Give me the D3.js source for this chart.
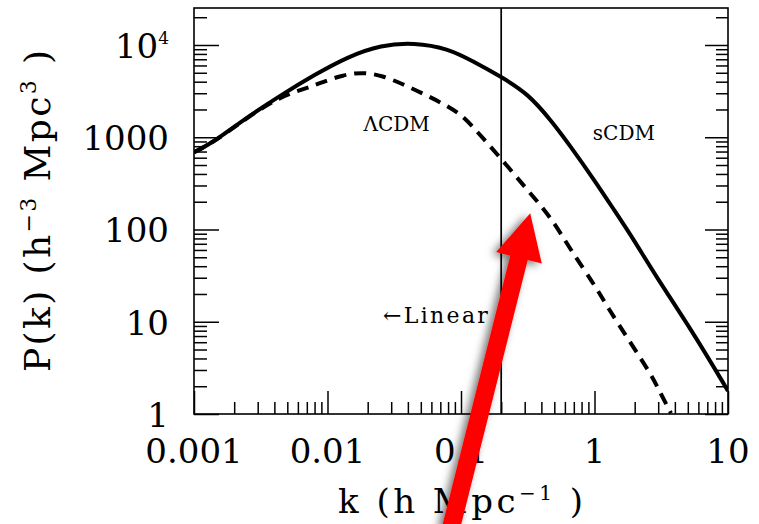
<!DOCTYPE html>
<html>
<head>
<meta charset="utf-8">
<script src="https://cdn.jsdelivr.net/npm/d3@7"></script>
<style>
  body { margin: 0; background: #fff; }
  text { font-family: "DejaVu Serif", serif; fill: #000; }
</style>
</head>
<body>
<div id="chart"></div>
<script>
// values
const kSCDM = [0.001, 0.00141, 0.00252, 0.00449, 0.00793, 0.01416, 0.0252, 0.0445, 0.0795, 0.125, 0.2, 0.316, 0.472, 0.667, 1.0, 1.41, 1.99, 2.81, 5.56, 10]
const pSCDM = [687, 889, 1663, 2863, 4720, 7460, 10000, 10600, 9200, 6580, 4520, 2985, 1530, 785, 341, 161, 75.9, 33, 7.4, 1.78]

const kLCDM = [0.001, 0.00141, 0.00252, 0.00449, 0.0069, 0.0093, 0.013, 0.01835, 0.0259, 0.0366, 0.0517, 0.073, 0.1, 0.126, 0.2, 0.316, 0.472, 0.667, 1.0, 1.256, 1.82, 2.65, 3.15, 3.74]
const pLCDM = [687, 885, 1650, 2780, 3383, 3990, 4720, 5090, 4640, 3767, 2985, 2323, 1778, 1244, 587, 265, 136, 59, 25.2, 14.3, 6.22, 2.70, 1.64, 1.02]

const kLinear = 0.2

const xMajor = [0.001, 0.01, 0.1, 1, 10]
const xLabels = ["0.001", "0.01", "0.1", "1", "10"]
const yMajor = [1, 10, 100, 1000, 10000]
const yLabels = ["1", "10", "100", "1000", "10^4"]

// 1. dimensions
let dimensions = {
  width: 759,
  height: 524,
  margin: { top: 8, right: 31, bottom: 110, left: 194 },
}
dimensions.boundedWidth = dimensions.width - dimensions.margin.left - dimensions.margin.right
dimensions.boundedHeight = dimensions.height - dimensions.margin.top - dimensions.margin.bottom

// 2. canvas
const svg = d3.select("#chart").append("svg")
  .attr("width", dimensions.width)
  .attr("height", dimensions.height)

const defs = svg.append("defs")
defs.append("clipPath").attr("id", "plot-clip")
  .append("rect")
  .attr("x", dimensions.margin.left)
  .attr("y", dimensions.margin.top)
  .attr("width", dimensions.boundedWidth)
  .attr("height", dimensions.boundedHeight)

defs.append("filter").attr("id", "shadow")
  .attr("x", "-50%").attr("y", "-50%").attr("width", "200%").attr("height", "200%")
  .append("feDropShadow")
  .attr("dx", -4).attr("dy", 2).attr("stdDeviation", 4)
  .attr("flood-color", "#000").attr("flood-opacity", 0.55)

// 3. scales
const x = d3.scaleLog()
  .domain([0.001, 10])
  .range([dimensions.margin.left, dimensions.margin.left + dimensions.boundedWidth])

const y = d3.scaleLog()
  .domain([1, Math.pow(10, 4.401)])
  .range([dimensions.margin.top + dimensions.boundedHeight, dimensions.margin.top])

const isPow10 = v => Math.abs(Math.log10(v) - Math.round(Math.log10(v))) < 1e-6
const xMinor = x.ticks().filter(v => !isPow10(v))
const yMinor = y.ticks().filter(v => !isPow10(v))

const yBottom = y.range()[0]
const xLeft = x.range()[0]
const xRight = x.range()[1]

// 4. ticks (all pointing inward, no top ticks)
function tickGroup(axis, tx, ty) {
  const g = svg.append("g")
    .attr("transform", `translate(${tx},${ty})`)
    .call(axis)
  g.select(".domain").remove()
  g.selectAll("line").attr("stroke", "#000").attr("stroke-width", 1.5)
  g.selectAll("text").remove()
  return g
}
tickGroup(d3.axisBottom(x).tickValues(xMinor).tickSize(-12).tickFormat(""), 0, yBottom)
tickGroup(d3.axisBottom(x).tickValues(xMajor).tickSize(-23).tickFormat(""), 0, yBottom)
tickGroup(d3.axisLeft(y).tickValues(yMinor).tickSize(-13).tickFormat(""), xLeft, 0)
tickGroup(d3.axisLeft(y).tickValues(yMajor).tickSize(-25).tickFormat(""), xLeft, 0)
tickGroup(d3.axisRight(y).tickValues(yMinor).tickSize(-12).tickFormat(""), xRight, 0)
tickGroup(d3.axisRight(y).tickValues(yMajor).tickSize(-23).tickFormat(""), xRight, 0)

// frame
svg.append("rect")
  .attr("x", xLeft)
  .attr("y", dimensions.margin.top)
  .attr("width", dimensions.boundedWidth)
  .attr("height", dimensions.boundedHeight)
  .attr("fill", "none")
  .attr("stroke", "#000")
  .attr("stroke-width", 1.6)

// linear cut-off line
svg.append("line")
  .attr("x1", x(kLinear)).attr("x2", x(kLinear))
  .attr("y1", y.range()[0]).attr("y2", y.range()[1])
  .attr("stroke", "#000")
  .attr("stroke-width", 1.7)

// 5. curves
const lineGenerator = d3.line()
  .x(d => x(d[0]))
  .y(d => y(d[1]))
  .curve(d3.curveBasis)

const plot = svg.append("g").attr("clip-path", "url(#plot-clip)")

plot.append("path")
  .attr("d", lineGenerator(d3.zip(kSCDM, pSCDM)))
  .attr("fill", "none")
  .attr("stroke", "#000")
  .attr("stroke-width", 4)

plot.append("path")
  .attr("d", lineGenerator(d3.zip(kLCDM, pLCDM)))
  .attr("fill", "none")
  .attr("stroke", "#000")
  .attr("stroke-width", 4)
  .attr("stroke-dasharray", "12,8")

// 6. tick labels
svg.append("g").selectAll("text")
  .data(yMajor)
  .join("text")
    .attr("x", 169)
    .attr("y", d => y(d) + 13)
    .attr("text-anchor", "end")
    .attr("font-size", 34)
    .each(function(d, i) {
      const t = d3.select(this)
      const lab = yLabels[i]
      if (lab.includes("^")) {
        const [base, exp] = lab.split("^")
        t.append("tspan").text(base)
        t.append("tspan").attr("dy", -14).attr("font-size", 17).text(exp)
      } else {
        t.text(lab)
      }
    })

svg.append("g").selectAll("text")
  .data(xMajor)
  .join("text")
    .attr("x", d => x(d))
    .attr("y", 463)
    .attr("text-anchor", "middle")
    .attr("font-size", 34)
    .text((d, i) => xLabels[i])

// axis titles
const xTitle = svg.append("text")
  .attr("x", 338)
  .attr("y", 513)
  .attr("font-size", 34)
  .attr("textLength", 245)
  .attr("lengthAdjust", "spacing")
xTitle.append("tspan").text("k (h Mpc")
xTitle.append("tspan").attr("dy", -13).attr("font-size", 20).text("\u22121")
xTitle.append("tspan").attr("dy", 13).text(" )")

const yTitle = svg.append("text")
  .attr("transform", "translate(50,211) rotate(-90)")
  .attr("text-anchor", "middle")
  .attr("font-size", 36)
  .attr("textLength", 322)
  .attr("lengthAdjust", "spacing")
yTitle.append("tspan").text("P(k) (h")
yTitle.append("tspan").attr("dy", -14).attr("font-size", 22).text("\u22123")
yTitle.append("tspan").attr("dy", 14).text(" Mpc")
yTitle.append("tspan").attr("dy", -14).attr("font-size", 22).text("3")
yTitle.append("tspan").attr("dy", 14).text(" )")

// curve labels
svg.append("text")
  .attr("x", x(0.033)).attr("y", y(1170))
  .attr("text-anchor", "middle")
  .attr("font-size", 20)
  .text("\u039BCDM")

svg.append("text")
  .attr("x", x(1.66)).attr("y", y(934))
  .attr("text-anchor", "middle")
  .attr("font-size", 20)
  .text("sCDM")

svg.append("text")
  .attr("x", x(0.026)).attr("y", y(9.7))
  .attr("font-size", 22)
  .attr("textLength", 105)
  .attr("lengthAdjust", "spacing")
  .text("\u2190Linear")

// 7. red annotation arrow
const arrowTip = [0.33, 150]
const arrowTail = [0.0834, 0.0553]
const tip = [x(arrowTip[0]), y(arrowTip[1])]
const tail = [x(arrowTail[0]), y(arrowTail[1])]
const len = Math.hypot(tip[0] - tail[0], tip[1] - tail[1])
const u = [(tip[0] - tail[0]) / len, (tip[1] - tail[1]) / len]
const n = [-u[1], u[0]]
const headLen = 46, headHalf = 23.5, shaftHalf = 9
const base = [tip[0] - u[0] * headLen, tip[1] - u[1] * headLen]
const pt = (p, s) => [p[0] + n[0] * s, p[1] + n[1] * s]
const arrowPts = [
  pt(tail, shaftHalf), pt(base, shaftHalf), pt(base, headHalf), tip,
  pt(base, -headHalf), pt(base, -shaftHalf), pt(tail, -shaftHalf)
]
svg.append("path")
  .attr("d", "M" + arrowPts.map(p => p.join(",")).join("L") + "Z")
  .attr("fill", "#ff0000")
  .attr("filter", "url(#shadow)")
</script>
</body>
</html>
